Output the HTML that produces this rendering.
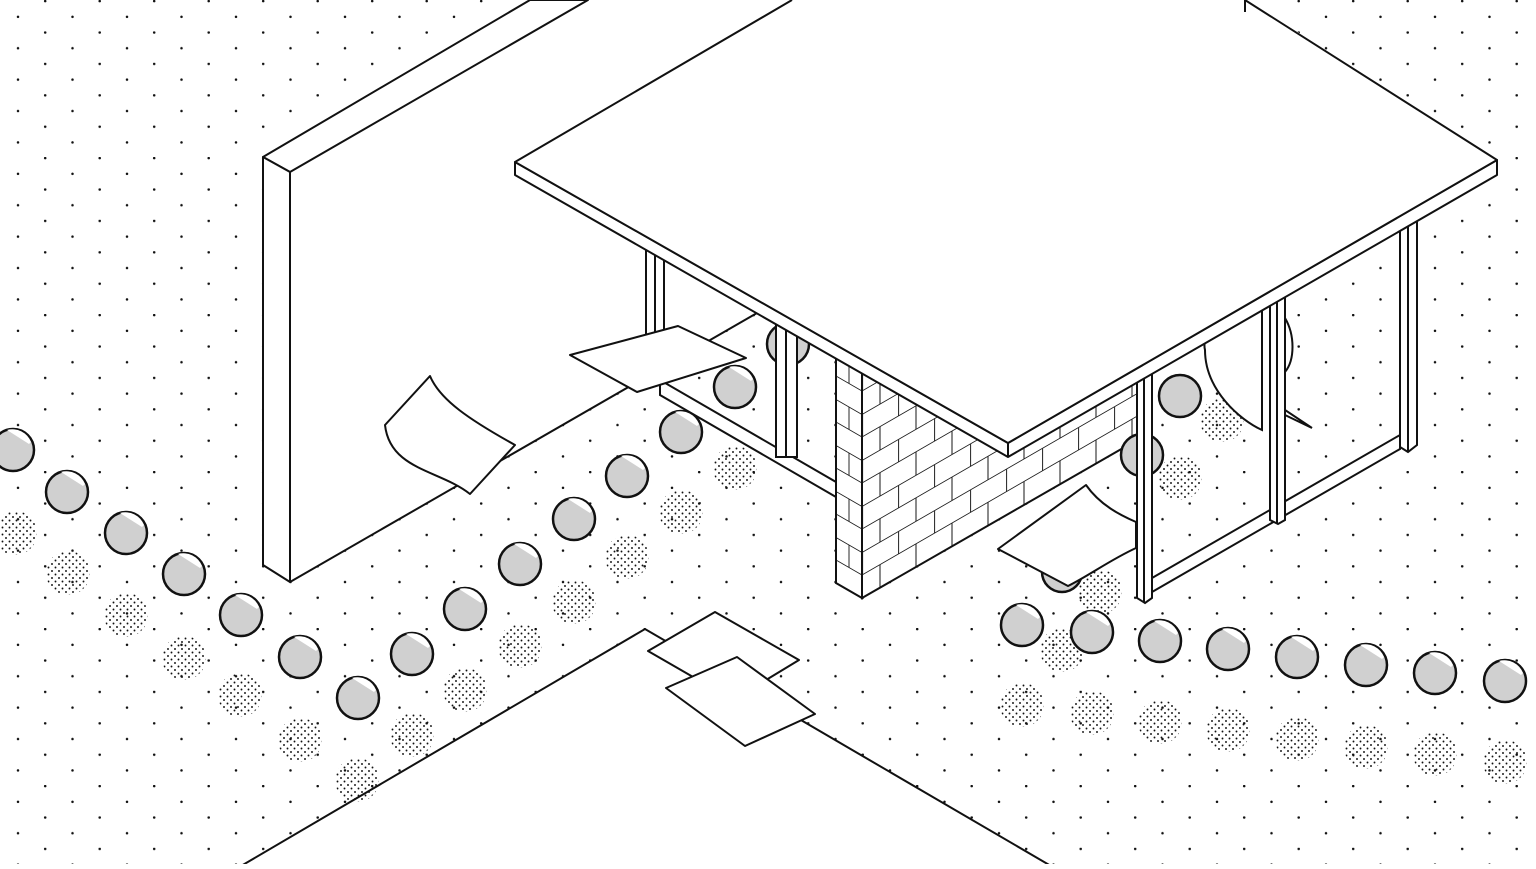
<!DOCTYPE html>
<html><head><meta charset="utf-8"><style>html,body{margin:0;padding:0;background:#fff;overflow:hidden}</style></head>
<body>
<svg width="1536" height="864" viewBox="0 0 1536 864" xmlns="http://www.w3.org/2000/svg">
<defs>
<pattern id="grid" patternUnits="userSpaceOnUse" x="0" y="0" width="54.5" height="31.4">
<circle cx="18" cy="16.8" r="1.25" fill="#111"/>
<circle cx="45.2" cy="1.1" r="1.25" fill="#111"/>
</pattern>
<pattern id="stip" patternUnits="userSpaceOnUse" width="7" height="7">
<circle cx="1.5" cy="1.5" r="0.95" fill="#111"/>
<circle cx="5" cy="5" r="0.95" fill="#111"/>
</pattern>
<pattern id="brickR" patternUnits="userSpaceOnUse" width="36" height="46" patternTransform="translate(862,598) skewY(-30)">
<rect width="36" height="46" fill="#fff"/>
<line x1="0" y1="0.5" x2="36" y2="0.5" stroke="#222" stroke-width="1"/>
<line x1="0" y1="23" x2="36" y2="23" stroke="#222" stroke-width="1"/>
<line x1="0.5" y1="0" x2="0.5" y2="23" stroke="#222" stroke-width="1"/>
<line x1="18" y1="23" x2="18" y2="46" stroke="#222" stroke-width="1"/>
</pattern>
<pattern id="brickL" patternUnits="userSpaceOnUse" width="26" height="46" patternTransform="translate(836,583) skewY(30)">
<rect width="26" height="46" fill="#fff"/>
<line x1="0" y1="0.5" x2="26" y2="0.5" stroke="#222" stroke-width="1"/>
<line x1="0" y1="23" x2="26" y2="23" stroke="#222" stroke-width="1"/>
<line x1="13" y1="0" x2="13" y2="23" stroke="#222" stroke-width="1"/>
</pattern>
<g id="sph">
<circle r="21" fill="#d0d0d0" stroke="#111" stroke-width="2.5"/>
<path d="M-6,-20 A20,20 0 0 1 18,-8 L16,-6 Z" fill="#fff"/>
</g>
<circle id="sh" r="22" fill="url(#stip)"/>
</defs>

<rect width="1536" height="864" fill="url(#grid)"/>

<polygon points="241,866 645,629 1051,866" fill="#fff" stroke="#111" stroke-width="2"/>

<g>
<use href="#sh" x="15" y="533"/><use href="#sh" x="68" y="573"/><use href="#sh" x="126" y="615"/><use href="#sh" x="184" y="658"/><use href="#sh" x="240" y="695"/><use href="#sh" x="300" y="740"/><use href="#sh" x="357" y="780"/>
<use href="#sh" x="412" y="735"/><use href="#sh" x="465" y="690"/><use href="#sh" x="520" y="646"/><use href="#sh" x="574" y="602"/><use href="#sh" x="627" y="557"/><use href="#sh" x="681" y="512"/><use href="#sh" x="735" y="468"/>
<use href="#sh" x="1022" y="705"/><use href="#sh" x="1092" y="713"/><use href="#sh" x="1160" y="722"/><use href="#sh" x="1228" y="730"/><use href="#sh" x="1297" y="739"/><use href="#sh" x="1366" y="747"/><use href="#sh" x="1435" y="754"/><use href="#sh" x="1505" y="762"/>
<use href="#sh" x="1100" y="592"/><use href="#sh" x="1062" y="650"/><use href="#sh" x="1180" y="478"/><use href="#sh" x="1222" y="420"/>
</g>

<polygon points="290,172 588,0 760,0 760,312 290,582" fill="#fff"/>
<line x1="290" y1="582" x2="757" y2="313" stroke="#111" stroke-width="2"/>
<polygon points="263,157 530,0 588,0 290,172" fill="#fff" stroke="#111" stroke-width="2" stroke-linejoin="round"/>
<polygon points="263,157 290,172 290,582 263,565" fill="#fff" stroke="#111" stroke-width="2" stroke-linejoin="round"/>

<polygon points="646,240 664,240 664,385 646,385" fill="#fff" stroke="#111" stroke-width="2"/>
<line x1="655" y1="240" x2="655" y2="385" stroke="#111" stroke-width="2"/>
<polygon points="660,380 836,482 836,497 660,395" fill="#fff" stroke="#111" stroke-width="2"/>
<circle cx="788" cy="344" r="21" fill="#d0d0d0" stroke="#111" stroke-width="2.5"/>
<polygon points="776,320 797,320 797,457 776,457" fill="#fff" stroke="#111" stroke-width="2"/>
<line x1="786" y1="320" x2="786" y2="457" stroke="#111" stroke-width="2"/>

<polygon points="862,300 1137,140 1137,440 862,598" fill="url(#brickR)" stroke="#111" stroke-width="2"/>
<polygon points="836,340 862,355 862,598 836,583" fill="url(#brickL)" stroke="#111" stroke-width="2"/>

<path d="M1205,350 C1200,330 1230,310 1262,310 L1262,430 C1240,420 1205,390 1205,350 Z" fill="#fff" stroke="#111" stroke-width="2"/>
<path d="M1285,318 C1295,335 1295,360 1285,372 L1285,410 L1312,428 L1285,415 Z" fill="#fff" stroke="#111" stroke-width="2"/>
<circle cx="1142" cy="455" r="21" fill="#d0d0d0" stroke="#111" stroke-width="2.5"/>
<circle cx="1062" cy="572" r="20" fill="#d0d0d0" stroke="#111" stroke-width="2.5"/>
<polygon points="1152,578 1400,435 1400,449 1152,592" fill="#fff" stroke="#111" stroke-width="2"/>
<polygon points="1137,370 1152,370 1152,598 1145,603 1137,598" fill="#fff" stroke="#111" stroke-width="2"/>
<line x1="1144" y1="372" x2="1144" y2="603" stroke="#111" stroke-width="2"/>
<polygon points="1270,295 1285,295 1285,520 1278,524 1270,520" fill="#fff" stroke="#111" stroke-width="2"/>
<line x1="1277" y1="297" x2="1277" y2="524" stroke="#111" stroke-width="2"/>
<polygon points="1400,220 1417,220 1417,445 1408,452 1400,447" fill="#fff" stroke="#111" stroke-width="2"/>
<line x1="1408" y1="222" x2="1408" y2="452" stroke="#111" stroke-width="2"/>
<circle cx="1180" cy="396" r="21" fill="#d0d0d0" stroke="#111" stroke-width="2.5"/>

<polygon points="515,162 515,175 1008,457 1497,175 1497,160 1008,443" fill="#fff" stroke="#111" stroke-width="2" stroke-linejoin="round"/>
<polygon points="515,162 792,-2 1245,-2 1497,160 1008,443" fill="#fff"/>
<polyline points="792,0 515,162 1008,443 1497,160 1245,0" fill="none" stroke="#111" stroke-width="2" stroke-linejoin="round"/>
<line x1="1008" y1="443" x2="1008" y2="457" stroke="#111" stroke-width="2"/>
<line x1="1245" y1="0" x2="1245" y2="12" stroke="#111" stroke-width="2"/>

<polygon points="570,355 678,326 746,358 637,392" fill="#fff" stroke="#111" stroke-width="2" stroke-linejoin="round"/>
<path d="M385,425 L430,376 C440,400 470,420 515,445 L470,494 C440,470 390,470 385,425 Z" fill="#fff" stroke="#111" stroke-width="2" stroke-linejoin="round"/>
<path d="M998,549 L1086,485 C1100,505 1120,515 1136,522 L1136,548 C1110,560 1090,575 1068,586 Z" fill="#fff" stroke="#111" stroke-width="2" stroke-linejoin="round"/>
<polygon points="648,651 715,612 799,660 733,700" fill="#fff" stroke="#111" stroke-width="2" stroke-linejoin="round"/>
<polygon points="666,688 737,657 815,714 745,746" fill="#fff" stroke="#111" stroke-width="2" stroke-linejoin="round"/>

<g>
<use href="#sph" x="13" y="450"/><use href="#sph" x="67" y="492"/><use href="#sph" x="126" y="533"/><use href="#sph" x="184" y="574"/><use href="#sph" x="241" y="615"/><use href="#sph" x="300" y="657"/><use href="#sph" x="358" y="698"/>
<use href="#sph" x="412" y="654"/><use href="#sph" x="465" y="609"/><use href="#sph" x="520" y="564"/><use href="#sph" x="574" y="519"/><use href="#sph" x="627" y="476"/><use href="#sph" x="681" y="432"/><use href="#sph" x="735" y="387"/>
<use href="#sph" x="1022" y="625"/><use href="#sph" x="1092" y="632"/><use href="#sph" x="1160" y="641"/><use href="#sph" x="1228" y="649"/><use href="#sph" x="1297" y="657"/><use href="#sph" x="1366" y="665"/><use href="#sph" x="1435" y="673"/><use href="#sph" x="1505" y="681"/>
</g>
</svg>
</body></html>
